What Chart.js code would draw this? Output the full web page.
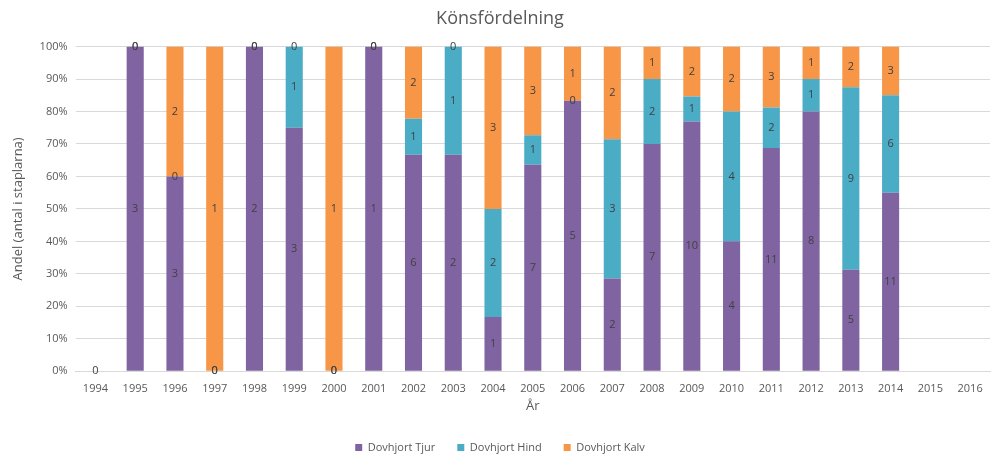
<!DOCTYPE html>
<html>
<head>
<meta charset="utf-8">
<script src="https://cdn.jsdelivr.net/npm/chart.js@4/dist/chart.umd.min.js"></script>
<style>
    html, body { margin: 0; padding: 0; background: #fff; }
    #wrap { width: 1000px; height: 463px; }
</style>
</head>
<body>
<div id="wrap"><canvas id="chart"></canvas></div>
<script>
// Years on the x axis
var years = ['1994', '1995', '1996', '1997', '1998', '1999', '2000', '2001', '2002', '2003', '2004', '2005',
    '2006', '2007', '2008', '2009', '2010', '2011', '2012', '2013', '2014', '2015', '2016'];

// Counts per year (null = no data)
var tjur = [0, 3, 3, 0, 2, 3, 0, 1, 6, 2, 1, 7, 5, 2, 7, 10, 4, 11, 8, 5, 11, null, null];
var hind = [null, 0, 0, 0, 0, 1, 0, 0, 1, 1, 2, 1, 0, 3, 2, 1, 4, 2, 1, 9, 6, null, null];
var kalv = [null, 0, 2, 1, 0, 0, 1, 0, 2, 0, 3, 3, 1, 2, 1, 2, 2, 3, 1, 2, 3, null, null];

var yTicks = [0, 10, 20, 30, 40, 50, 60, 70, 80, 90, 100];

var series = [
    { label: 'Dovhjort Tjur', counts: tjur, color: '#8064A2' },
    { label: 'Dovhjort Hind', counts: hind, color: '#4BACC6' },
    { label: 'Dovhjort Kalv', counts: kalv, color: '#F79646' }
];

// Turn counts into shares of the year's total (100% stacked)
function toPercent(counts) {
    return counts.map(function(v, i) {
        if (v === null) return null;
        var total = (tjur[i] || 0) + (hind[i] || 0) + (kalv[i] || 0);
        return total > 0 ? v / total * 100 : 0;
    });
}

// Draw the raw counts in the middle of each segment
var countLabels = {
    id: 'countLabels',
    afterDatasetsDraw: function(chart) {
        var ctx = chart.ctx;
        ctx.save();
        ctx.font = '11px "Open Sans", sans-serif';
        ctx.fillStyle = '#404040';
        ctx.textAlign = 'center';
        ctx.textBaseline = 'middle';
        chart.data.datasets.forEach(function(ds, di) {
            var meta = chart.getDatasetMeta(di);
            meta.data.forEach(function(bar, i) {
                var c = ds.counts[i];
                if (c === null || c === undefined) return;
                ctx.fillText(String(c), bar.x, (bar.y + bar.base) / 2);
            });
        });
        ctx.restore();
    }
};

var ctx = document.getElementById('chart').getContext('2d');
new Chart(ctx, {
    type: 'bar',
    data: {
        labels: years,
        datasets: series.map(function(s) {
            return {
                label: s.label,
                data: toPercent(s.counts),
                counts: s.counts,
                backgroundColor: s.color,
                borderWidth: 0,
                categoryPercentage: 1,
                barPercentage: 0.43
            };
        })
    },
    options: {
        responsive: true,
        maintainAspectRatio: false,
        animation: false,
        layout: { padding: { left: 10, right: 10, top: 4, bottom: 0 } },
        plugins: {
            title: {
                display: true,
                text: 'Könsfördelning',
                color: '#595959',
                font: { family: '"Open Sans", sans-serif', size: 18, weight: 'normal' },
                padding: { top: 4, bottom: 17 }
            },
            legend: {
                position: 'bottom',
                labels: {
                    boxWidth: 7,
                    boxHeight: 7,
                    color: '#595959',
                    padding: 22,
                    font: { family: '"Open Sans", sans-serif', size: 11 }
                }
            },
            tooltip: { enabled: false }
        },
        scales: {
            x: {
                stacked: true,
                grid: { display: false },
                border: { color: '#d9d9d9' },
                ticks: { color: '#595959', font: { family: '"Open Sans", sans-serif', size: 11 }, maxRotation: 0 },
                title: {
                    display: true,
                    text: 'År',
                    color: '#595959',
                    font: { family: '"Open Sans", sans-serif', size: 13 },
                    padding: { top: 0, bottom: 6 }
                }
            },
            y: {
                stacked: true,
                min: 0,
                max: 100,
                afterBuildTicks: function(axis) {
                    axis.ticks = yTicks.map(function(v) { return { value: v }; });
                },
                grid: { color: '#d9d9d9', drawTicks: false },
                border: { display: false },
                ticks: {
                    color: '#595959',
                    padding: 8,
                    font: { family: '"Open Sans", sans-serif', size: 11 },
                    callback: function(v) { return v + '%'; }
                },
                title: {
                    display: true,
                    text: 'Andel (antal i staplarna)',
                    color: '#595959',
                    font: { family: '"Open Sans", sans-serif', size: 13 },
                    padding: { top: 0, bottom: 6 }
                }
            }
        }
    },
    plugins: [countLabels]
});
</script>
</body>
</html>
